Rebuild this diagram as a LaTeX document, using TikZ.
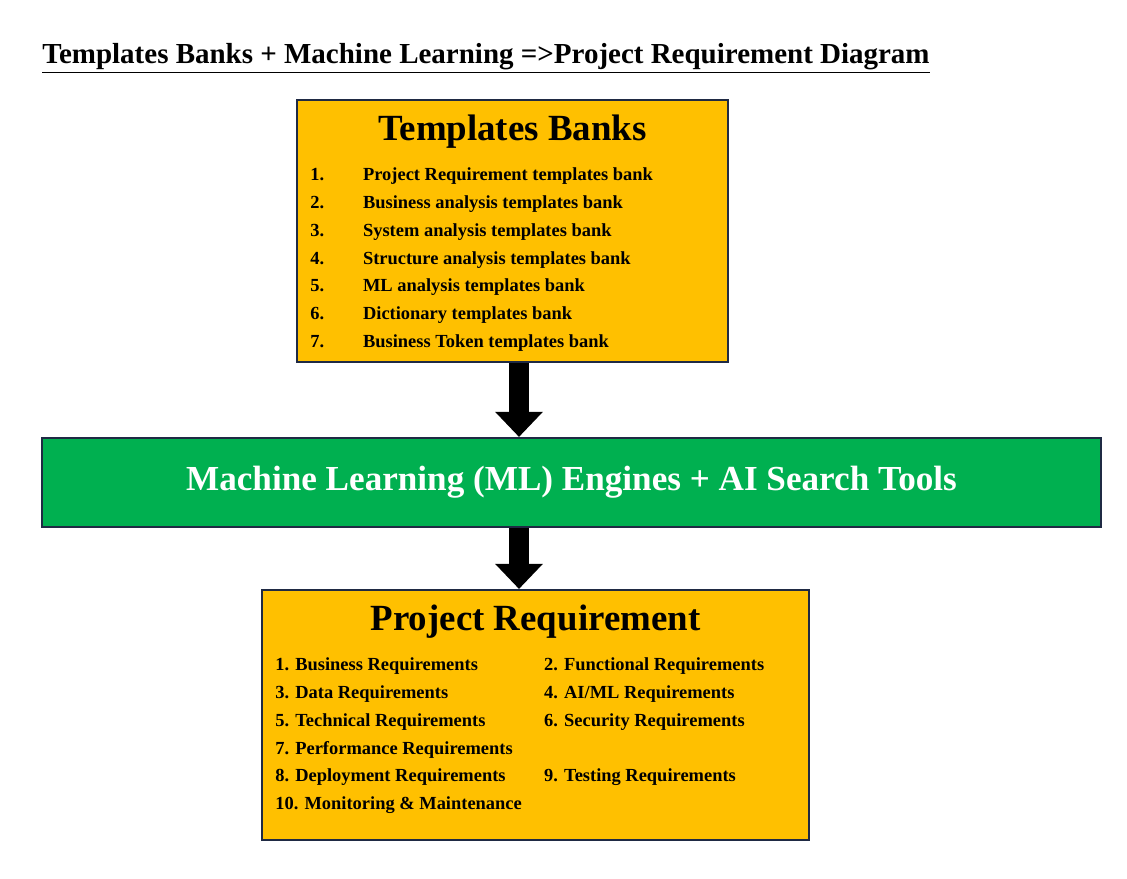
\documentclass[tikz,border=0pt]{standalone}
\usepackage{fontspec}
\setmainfont{Liberation Serif}
\usetikzlibrary{arrows.meta}
\definecolor{bankyellow}{HTML}{FFC000}
\definecolor{enginegreen}{HTML}{00B050}
\definecolor{boxborder}{HTML}{1F2A44}
\begin{document}
\begin{tikzpicture}[
    x=0.02cm, y=-0.02cm,
    box/.style={draw=boxborder, line width=1.2pt, fill=bankyellow, inner sep=0pt},
    engine/.style={box, fill=enginegreen},
    heading/.style={font=\fontsize{21}{24}\selectfont\bfseries, inner sep=0pt},
    items/.style={font=\fontsize{10.5}{15.8}\selectfont\bfseries, inner sep=0pt, anchor=north west},
    flow/.style={line width=0.4cm, -{Triangle[width=0.92cm, length=0.5cm]}}
]
\useasboundingbox (0,0) rectangle (1127,879);

% Title
\node[anchor=west, inner sep=0pt, font=\fontsize{16.5}{20}\selectfont\bfseries] (title) at (42,58)
    {\underline{Templates Banks + Machine Learning =>Project Requirement Diagram}};

% Templates banks
\node[box, minimum width=8.62cm, minimum height=5.24cm] (banks) at (512.5,231) {};
\node[heading] (banksTitle) at (512.5,132) {Templates Banks};
\node[items] (banksList) at (310,161) {%
    \begin{tabular}{@{}p{30pt}@{}l@{}}
    1. & Project Requirement templates bank\\
    2. & Business analysis templates bank\\
    3. & System analysis templates bank\\
    4. & Structure analysis templates bank\\
    5. & ML analysis templates bank\\
    6. & Dictionary templates bank\\
    7. & Business Token templates bank
    \end{tabular}};

% ML engines
\node[engine, minimum width=21.18cm, minimum height=1.78cm, text=white,
      font=\fontsize{20}{24}\selectfont\bfseries] (engines) at (571.5,482.5)
    {Machine Learning (ML) Engines + AI Search Tools};

% Project requirement
\node[box, minimum width=10.94cm, minimum height=5cm] (project) at (535.5,715) {};
\node[heading] (projectTitle) at (535.5,622) {Project Requirement};
\node[items] (projectList) at (275,651) {%
    \begin{tabular}{@{}p{153pt}@{}l@{}}
    1. Business Requirements & 2. Functional Requirements\\
    3. Data Requirements & 4. AI/ML Requirements\\
    5. Technical Requirements & 6. Security Requirements\\
    \multicolumn{2}{@{}l@{}}{7. Performance Requirements}\\
    8. Deployment Requirements & 9. Testing Requirements\\
    \multicolumn{2}{@{}l@{}}{10. Monitoring \& Maintenance}
    \end{tabular}};

% Arrows
\draw[flow] (banks.south -| 519,0) -- (engines.north -| 519,0);
\draw[flow] (engines.south -| 519,0) -- (project.north -| 519,0);
\end{tikzpicture}
\end{document}
